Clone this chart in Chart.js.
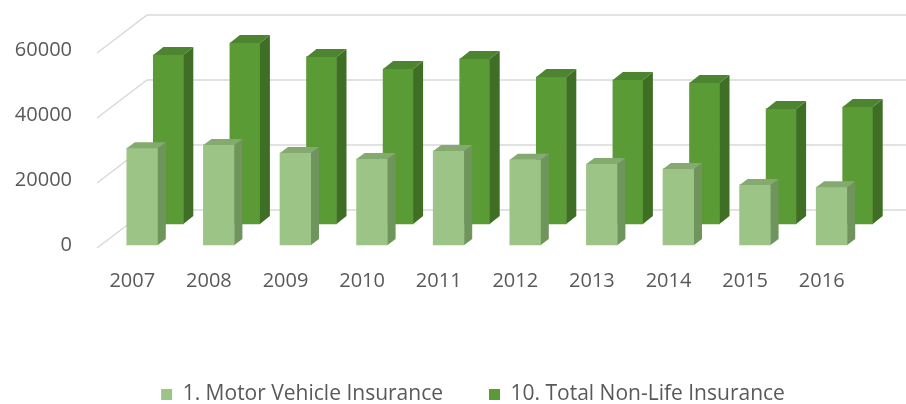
<!DOCTYPE html>
<html>
<head>
  <title>Motor Vehicle Insurance / Total Non-Life Insurance</title>
  <style>
    body {
      margin: 0;
      padding: 0;
      background-color: #ffffff;
    }
    #wrap {
      width: 906px;
      height: 404px;
    }
  </style>
  <script src="https://cdn.jsdelivr.net/npm/chart.js"></script>
</head>
<body>
  <div id="wrap"><canvas id="insurance_chart" width="906" height="404"></canvas></div>

  <script>
    // values
    var years = ['2007', '2008', '2009', '2010', '2011', '2012', '2013', '2014', '2015', '2016'];
    var motorVehicle = [29800, 30800, 28300, 26500, 28900, 26200, 24900, 23400, 18500, 17800];
    var totalNonLife = [52000, 55700, 51400, 47700, 50800, 45200, 44300, 43400, 35400, 36000];
    var yTicks = [0, 20000, 40000, 60000];

    // fake 3d look: shift of each series into depth, and the side/top faces
    var look = [
      { dx: 0, dy: 0, ox: 8, oy: 6, side: '#6f955c', top: '#84aa70' },
      { dx: 26, dy: -21, ox: 10, oy: 8, side: '#3f6f24', top: '#4d842f' }
    ];

    var depth3d = {
      id: 'depth3d',
      afterLayout: function(chart) {
        // the legend sits right of the middle in the original
        chart.legend.left += 36;
        chart.legend.right += 36;
      },
      beforeDatasetsDraw: function(chart) {
        var ctx = chart.ctx;
        var y = chart.scales.y;
        var area = chart.chartArea;
        ctx.save();
        ctx.strokeStyle = '#d9d9d9';
        ctx.lineWidth = 1.5;
        yTicks.forEach(function(v) {
          var py = y.getPixelForValue(v);
          ctx.beginPath();
          ctx.moveTo(area.left - 7, py + 3);
          ctx.lineTo(area.left + 43, py - 35);
          ctx.lineTo(chart.width, py - 35);
          ctx.stroke();
        });
        ctx.restore();
      },
      beforeDatasetDraw: function(chart, args) {
        var s = look[args.index];
        chart.ctx.save();
        chart.ctx.translate(s.dx, s.dy);
      },
      afterDatasetDraw: function(chart, args) {
        var ctx = chart.ctx;
        var s = look[args.index];
        args.meta.data.forEach(function(bar) {
          var l = bar.x - bar.width / 2, r = bar.x + bar.width / 2;
          var t = bar.y, b = bar.base;
          // side face
          ctx.fillStyle = s.side;
          ctx.beginPath();
          ctx.moveTo(r, t);
          ctx.lineTo(r + s.ox, t - s.oy);
          ctx.lineTo(r + s.ox, b - s.oy);
          ctx.lineTo(r, b);
          ctx.closePath();
          ctx.fill();
          // top face
          ctx.fillStyle = s.top;
          ctx.beginPath();
          ctx.moveTo(l, t);
          ctx.lineTo(l + s.ox, t - s.oy);
          ctx.lineTo(r + s.ox, t - s.oy);
          ctx.lineTo(r, t);
          ctx.closePath();
          ctx.fill();
        });
        ctx.restore();
      }
    };

    var insuranceChart = new Chart(document.getElementById('insurance_chart'), {
      type: 'bar',
      data: {
        labels: years,
        datasets: [{
          label: '1. Motor Vehicle Insurance',
          data: motorVehicle,
          backgroundColor: '#9cc486',
          barThickness: 31,
          grouped: false,
          clip: false
        }, {
          label: '10. Total Non-Life Insurance',
          data: totalNonLife,
          backgroundColor: '#5b9b35',
          barThickness: 30,
          grouped: false,
          clip: false
        }]
      },
      options: {
        responsive: false,
        animation: false,
        layout: {
          padding: { left: 4, right: 36, top: 50, bottom: -11 }
        },
        plugins: {
          tooltip: { enabled: false },
          legend: {
            position: 'bottom',
            labels: {
              boxWidth: 11,
              boxHeight: 11,
              padding: 46,
              color: '#595959',
              font: { family: 'Open Sans', size: 21 }
            }
          }
        },
        scales: {
          x: {
            offset: true,
            grid: { display: false },
            border: { display: false },
            ticks: {
              color: '#595959',
              font: { family: 'Open Sans', size: 20 },
              padding: 16,
              labelOffset: -10,
              maxRotation: 0
            },
            afterFit: function(scale) { scale.height = 93; }
          },
          y: {
            min: 0,
            max: 60000,
            grid: { display: false },
            border: { display: false },
            ticks: {
              color: '#595959',
              font: { family: 'Open Sans', size: 20 },
              padding: 24,
              callback: function(v) { return String(v); }
            },
            afterBuildTicks: function(scale) {
              scale.ticks = yTicks.map(function(v) { return { value: v }; });
            },
            afterFit: function(scale) { scale.width = 100; }
          }
        }
      },
      plugins: [depth3d]
    });
  </script>
</body>
</html>
